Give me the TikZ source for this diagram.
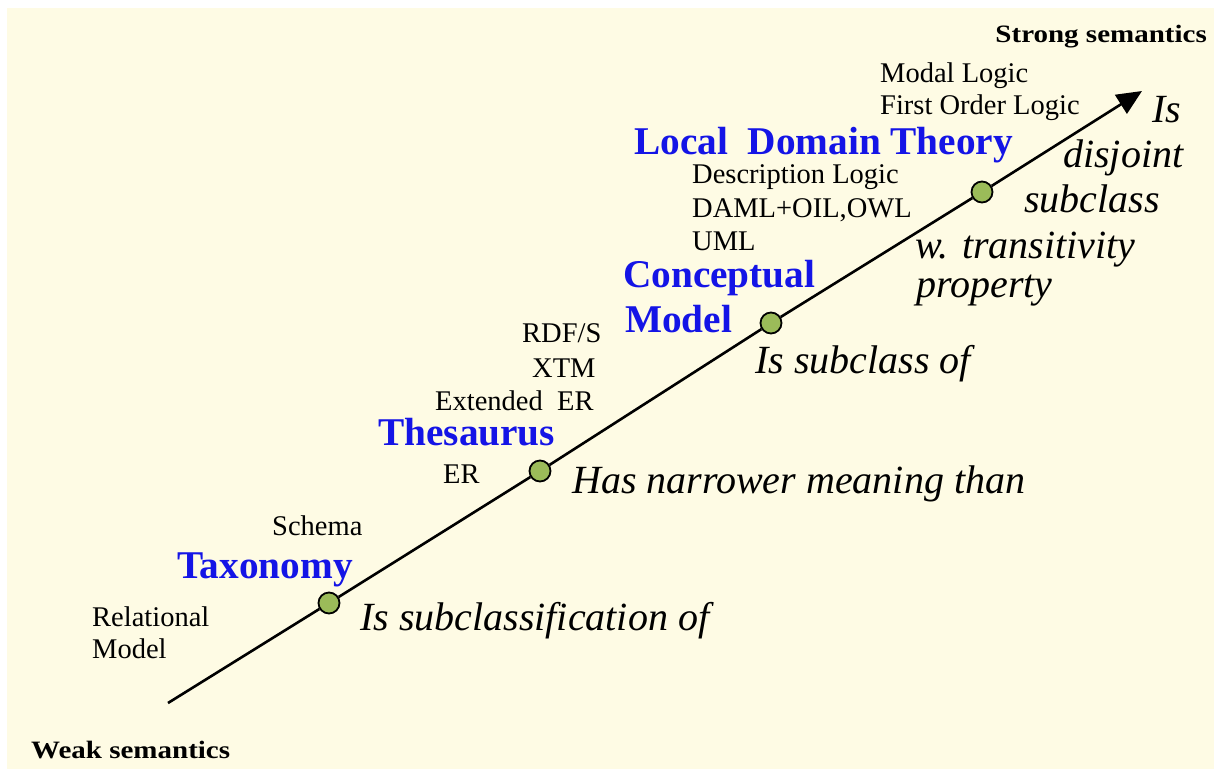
\documentclass[tikz,border=0pt]{standalone}
\usepackage{fontspec}
\setmainfont{Liberation Serif}
\usetikzlibrary{arrows.meta}
\definecolor{bgcream}{RGB}{254,251,228}
\definecolor{dotgreen}{RGB}{155,187,89}
\definecolor{ttblue}{RGB}{20,20,230}
\begin{document}
\begin{tikzpicture}[x=1pt,y=-1pt,
  txt/.style={anchor=base west, inner sep=0pt, font=\fontsize{28.5}{32}\selectfont},
  big/.style={anchor=base west, inner sep=0pt, text=ttblue, font=\fontsize{39.3}{44}\selectfont\bfseries},
  rel/.style={anchor=base west, inner sep=0pt, font=\fontsize{40}{44}\selectfont\itshape},
  semlab/.style={inner sep=0pt, font=\fontsize{25}{30}\selectfont\bfseries},
  dot/.style={circle, draw=black, line width=1.8pt, fill=dotgreen, minimum size=21pt, inner sep=0pt},
  axis/.style={line width=2.6pt, black}
]
\useasboundingbox (0,0) rectangle (1214,769);
\fill[bgcream] (7,8) rectangle (1214,769);

% axis
\coordinate (start) at (168,703);
\coordinate (tip) at (1142,91);
\node[dot] (d1) at (329,603) {};
\node[dot] (d2) at (540,471) {};
\node[dot] (d3) at (771,323) {};
\node[dot] (d4) at (982,192) {};
\draw[axis] (start) -- (d1);
\draw[axis] (d1) -- (d2);
\draw[axis] (d2) -- (d3);
\draw[axis] (d3) -- (d4);
\draw[axis, -{Triangle[length=25pt,width=22pt]}] (d4) -- (tip);

% end labels
\node[semlab, anchor=base east] (strong) at (1207,42) {\scalebox{1.16}[1]{Strong semantics}};
\node[semlab, anchor=base west] (weak) at (31,758) {\scalebox{1.16}[1]{Weak semantics}};

% level titles
\node[big] (ldt) at (634,154) {Local\ \ Domain Theory};
\node[big] (concept) at (623,287) {Conceptual};
\node[big] (cmodel) at (625,332) {Model};
\node[big] (thes) at (378,445) {Thesaurus};
\node[big] (taxo) at (177,578) {Taxonomy};

% examples
\node[txt] (modal) at (880,82) {Modal Logic};
\node[txt] (fol) at (880,114) {First Order Logic};
\node[txt] (dl) at (692,183) {Description Logic};
\node[txt] (daml) at (692,217) {DAML+OIL,OWL};
\node[txt] (uml) at (692,250) {UML};
\node[txt] (rdfs) at (522,342) {RDF/S};
\node[txt] (xtm) at (532,377) {XTM};
\node[txt] (eer) at (435,410) {Extended\ \ ER};
\node[txt] (er) at (443,483) {ER};
\node[txt] (schema) at (272,535) {Schema};
\node[txt] (relat) at (92,626) {Relational};
\node[txt] (rmodel) at (92,658) {Model};

% relations
\node[rel] (r4a) at (1152,122) {Is};
\node[rel] (r4b) at (1063,167) {disjoint};
\node[rel] (r4c) at (1024,212) {subclass};
\node[rel] (r4d) at (915,258) {w. transitivity};
\node[rel] (r4e) at (916,297) {property};
\node[rel] (r3) at (755,373) {Is subclass of};
\node[rel] (r2) at (572,493) {Has narrower meaning than};
\node[rel] (r1) at (360,630) {Is subclassification of};
\end{tikzpicture}
\end{document}
